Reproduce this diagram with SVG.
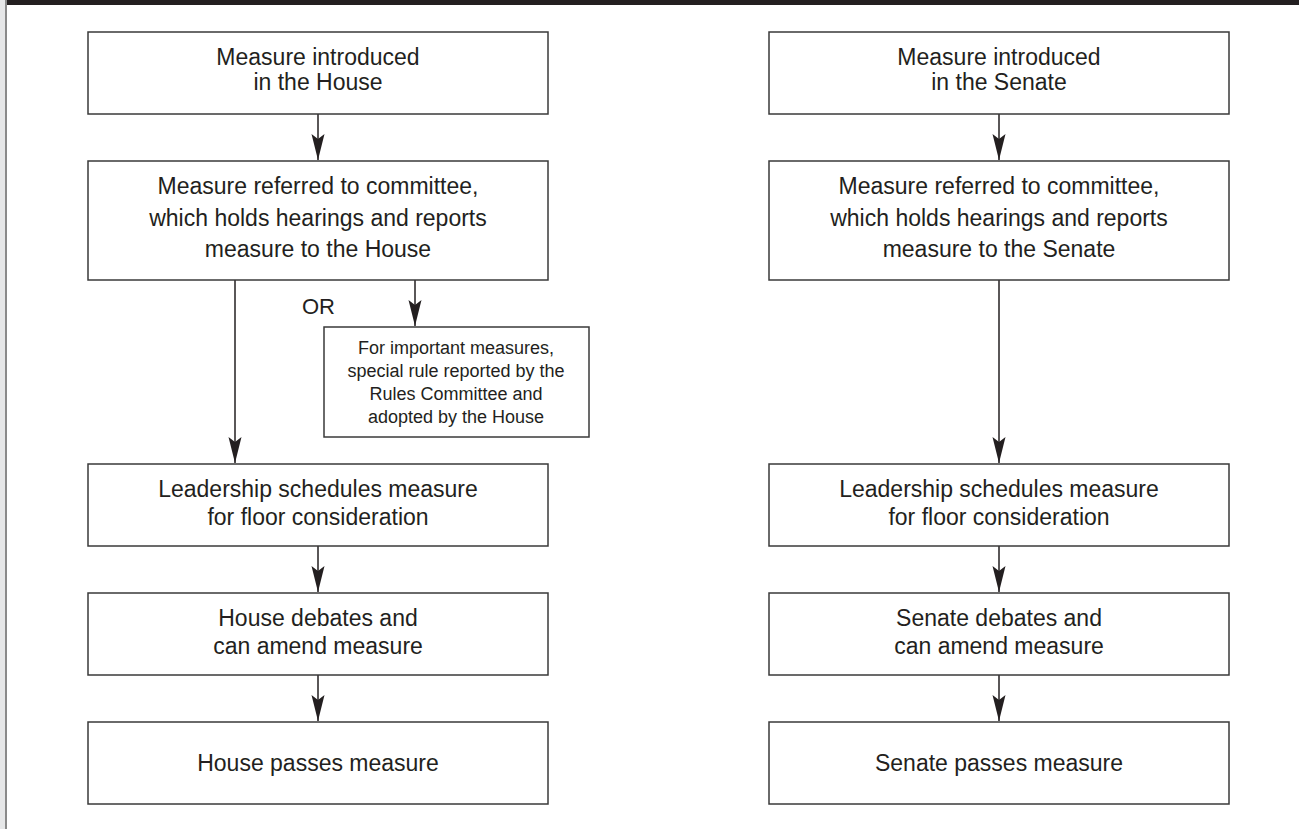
<svg xmlns="http://www.w3.org/2000/svg" width="1299" height="829" viewBox="0 0 1299 829">
<style>
.box{fill:#fff;stroke:#3a3a3a;stroke-width:1.5}
.t{font-family:"Liberation Sans",Arial,sans-serif;font-size:23px;fill:#231f20;text-anchor:middle}
.s{font-family:"Liberation Sans",Arial,sans-serif;font-size:18px;fill:#231f20;text-anchor:middle}
.c{stroke:#231f20;stroke-width:1.5;fill:none;marker-end:url(#ah)}
</style>
<defs>
<marker id="ah" markerUnits="userSpaceOnUse" markerWidth="30" markerHeight="16" viewBox="-28 -8 30 16" refX="0" refY="0" orient="auto">
<path d="M0,0 L-26,-6.5 L-21,0 L-26,6.5 Z" fill="#231f20"/>
</marker>
</defs>
<rect x="0" y="0" width="1299" height="829" fill="#fff"/>
<rect x="0" y="0" width="1299" height="5" fill="#231f20"/>
<rect x="0" y="0" width="5" height="829" fill="#e6e7e8"/>
<rect x="5" y="0" width="2" height="829" fill="#8a8a8a"/>

<g id="connectors">
<line class="c" x1="318" y1="114" x2="318" y2="160"/>
<line class="c" x1="235" y1="280" x2="235" y2="463"/>
<line class="c" x1="415" y1="280" x2="415" y2="326"/>
<line class="c" x1="318" y1="546" x2="318" y2="592"/>
<line class="c" x1="318" y1="675" x2="318" y2="721"/>
<line class="c" x1="999" y1="114" x2="999" y2="160"/>
<line class="c" x1="999" y1="280" x2="999" y2="463"/>
<line class="c" x1="999" y1="546" x2="999" y2="592"/>
<line class="c" x1="999" y1="675" x2="999" y2="721"/>
<text x="302" y="314" font-family="Liberation Sans, Arial, sans-serif" font-size="22" fill="#231f20">OR</text>
</g>

<g id="h1"><rect class="box" x="88" y="32" width="460" height="82"/>
<text class="t" x="318" y="65">Measure introduced</text><text class="t" x="318" y="90">in the House</text></g>
<g id="h2"><rect class="box" x="88" y="161" width="460" height="119"/>
<text class="t" x="318" y="194">Measure referred to committee,</text><text class="t" x="318" y="226">which holds hearings and reports</text><text class="t" x="318" y="257">measure to the House</text></g>
<g id="hrule"><rect class="box" x="324" y="327" width="265" height="110"/>
<text class="s" x="456" y="354">For important measures,</text><text class="s" x="456" y="377">special rule reported by the</text><text class="s" x="456" y="400">Rules Committee and</text><text class="s" x="456" y="423">adopted by the House</text></g>
<g id="h3"><rect class="box" x="88" y="464" width="460" height="82"/>
<text class="t" x="318" y="497">Leadership schedules measure</text><text class="t" x="318" y="525">for floor consideration</text></g>
<g id="h4"><rect class="box" x="88" y="593" width="460" height="82"/>
<text class="t" x="318" y="626">House debates and</text><text class="t" x="318" y="654">can amend measure</text></g>
<g id="h5"><rect class="box" x="88" y="722" width="460" height="82"/>
<text class="t" x="318" y="771">House passes measure</text></g>

<g id="s1"><rect class="box" x="769" y="32" width="460" height="82"/>
<text class="t" x="999" y="65">Measure introduced</text><text class="t" x="999" y="90">in the Senate</text></g>
<g id="s2"><rect class="box" x="769" y="161" width="460" height="119"/>
<text class="t" x="999" y="194">Measure referred to committee,</text><text class="t" x="999" y="226">which holds hearings and reports</text><text class="t" x="999" y="257">measure to the Senate</text></g>
<g id="s3"><rect class="box" x="769" y="464" width="460" height="82"/>
<text class="t" x="999" y="497">Leadership schedules measure</text><text class="t" x="999" y="525">for floor consideration</text></g>
<g id="s4"><rect class="box" x="769" y="593" width="460" height="82"/>
<text class="t" x="999" y="626">Senate debates and</text><text class="t" x="999" y="654">can amend measure</text></g>
<g id="s5"><rect class="box" x="769" y="722" width="460" height="82"/>
<text class="t" x="999" y="771">Senate passes measure</text></g>
</svg>
